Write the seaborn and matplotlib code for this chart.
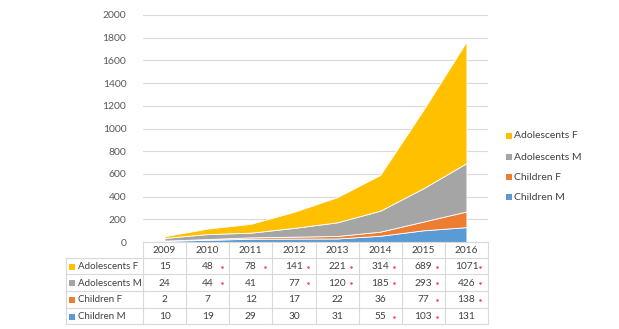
import matplotlib
matplotlib.use("Agg")
import matplotlib.pyplot as plt
import seaborn as sns
import numpy as np

years = [2009, 2010, 2011, 2012, 2013, 2014, 2015, 2016]
children_m = [10, 19, 29, 30, 31, 55, 103, 131]
children_f = [2, 7, 12, 17, 22, 36, 77, 138]
adolescents_m = [24, 44, 41, 77, 120, 185, 293, 426]
adolescents_f = [15, 48, 78, 141, 221, 314, 689, 1071]

series_names = ["Children M", "Children F", "Adolescents M", "Adolescents F"]
series_values = [children_m, children_f, adolescents_m, adolescents_f]
series_colors = ["#5B9BD5", "#ED7D31", "#A5A5A5", "#FFC000"]

# years whose table cell carries a red marker
flagged = {
    "Adolescents F": [2010, 2011, 2012, 2013, 2014, 2015, 2016],
    "Adolescents M": [2010, 2012, 2013, 2014, 2015, 2016],
    "Children F": [2015, 2016],
    "Children M": [2014, 2015],
}

y_ticks = list(range(0, 2001, 200))

sns.set_style("white")
plt.rcParams["font.family"] = ["Lato", "DejaVu Sans"]

W, H = 619, 329
fig = plt.figure(figsize=(W / 100, H / 100), dpi=100)

# plot area in pixel coordinates
px_left, px_right, px_top, px_bottom = 143, 488, 15, 242
ax = fig.add_axes([px_left / W, 1 - px_bottom / H,
                   (px_right - px_left) / W, (px_bottom - px_top) / H])

x = np.arange(len(years))
ax.stackplot(x, *series_values, colors=series_colors,
             edgecolor="white", linewidth=0.6)
ax.set_xlim(-0.5, len(years) - 0.5)
ax.set_ylim(0, 2000)
ax.set_yticks(y_ticks)
ax.set_yticklabels([str(t) for t in y_ticks], color="#595959", fontsize=7.5)
ax.tick_params(axis="y", length=0, pad=12)
ax.set_xticks([])
ax.yaxis.grid(True, color="#D9D9D9", linewidth=0.8)
ax.set_axisbelow(True)
for s in ax.spines.values():
    s.set_visible(False)

# overlay for the data table and legend, in pixel coordinates
ov = fig.add_axes([0, 0, 1, 1])
ov.set_xlim(0, W)
ov.set_ylim(H, 0)
ov.axis("off")
ov.patch.set_alpha(0)

line_c = "#D9D9D9"
col_w = (px_right - px_left) / len(years)
col_edges = [px_left + i * col_w for i in range(len(years) + 1)]
row_edges = [242, 258, 274, 291, 308, 324]
tbl_left = 66
txt_c = "#404040"
fs = 7

# header row lines
ov.plot([px_left, px_right], [row_edges[0], row_edges[0]], color=line_c, lw=0.8)
for r in row_edges[1:]:
    ov.plot([tbl_left, px_right], [r, r], color=line_c, lw=0.8)
for cx in col_edges:
    ov.plot([cx, cx], [row_edges[0], row_edges[-1]], color=line_c, lw=0.8)
ov.plot([tbl_left, tbl_left], [row_edges[1], row_edges[-1]], color=line_c, lw=0.8)

for i, yr in enumerate(years):
    ov.text(col_edges[i] + col_w / 2, (row_edges[0] + row_edges[1]) / 2 + 0.5, str(yr),
            ha="center", va="center", fontsize=fs + 0.3, color=txt_c)

table_order = [3, 2, 1, 0]
for ri, si in enumerate(table_order):
    name = series_names[si]
    yc = (row_edges[ri + 1] + row_edges[ri + 2]) / 2 + 0.5
    ov.add_patch(plt.Rectangle((tbl_left + 3, yc - 3), 6, 6,
                               color=series_colors[si], lw=0))
    ov.text(tbl_left + 12, yc, name, ha="left", va="center",
            fontsize=fs, color=txt_c)
    for i, yr in enumerate(years):
        cxc = col_edges[i] + col_w / 2
        ov.text(cxc, yc, str(series_values[si][i]), ha="center", va="center",
                fontsize=fs + 0.3, color=txt_c)
        if yr in flagged[name]:
            ov.plot(cxc + 14, yc, marker="o", ms=1.8, color="#FF3B5C", mew=0)

# legend on the right
leg_y = [136, 157, 177, 197]
for k, si in enumerate(table_order):
    ov.add_patch(plt.Rectangle((506, leg_y[k] - 3), 6, 6,
                               color=series_colors[si], lw=0))
    ov.text(514, leg_y[k], series_names[si], ha="left", va="center",
            fontsize=7.5, color=txt_c)

fig.savefig("out.png", dpi=100, facecolor="white")
